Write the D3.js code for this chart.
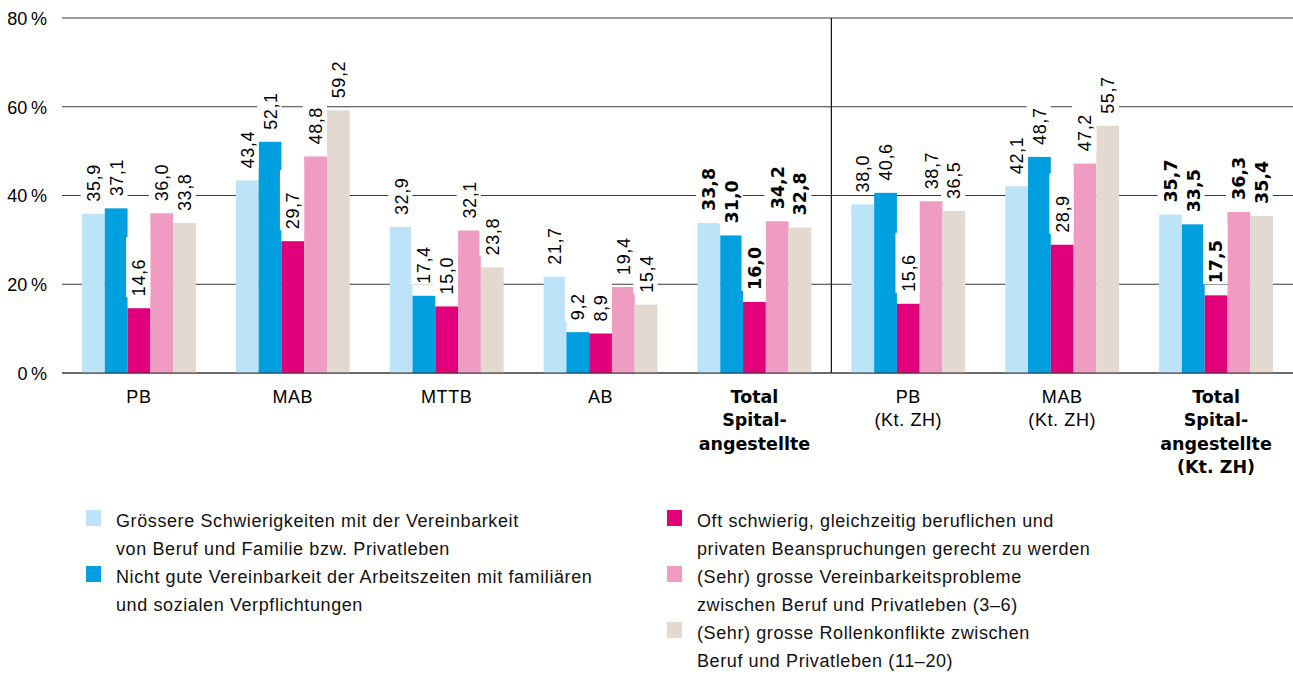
<!DOCTYPE html>
<html><head><meta charset="utf-8">
<script src="https://cdn.jsdelivr.net/npm/d3@7"></script>
<style>body{margin:0;background:#fff}svg{display:block}</style>
</head><body>
<svg id="c" width="1293" height="676"></svg>
<script>
const categories = ["PB","MAB","MTTB","AB","Total","PB ZH","MAB ZH","Total ZH"];
const categoryLines = [["PB"],["MAB"],["MTTB"],["AB"],["Total","Spital-","angestellte"],["PB","(Kt. ZH)"],["MAB","(Kt. ZH)"],["Total","Spital-","angestellte","(Kt. ZH)"]];
const boldCats = ["Total","Total ZH"];
const seriesNames = [
  ["Grössere Schwierigkeiten mit der Vereinbarkeit","von Beruf und Familie bzw. Privatleben"],
  ["Nicht gute Vereinbarkeit der Arbeitszeiten mit familiären","und sozialen Verpflichtungen"],
  ["Oft schwierig, gleichzeitig beruflichen und","privaten Beanspruchungen gerecht zu werden"],
  ["(Sehr) grosse Vereinbarkeitsprobleme","zwischen Beruf und Privatleben (3–6)"],
  ["(Sehr) grosse Rollenkonflikte zwischen","Beruf und Privatleben (11–20)"]
];
const s1 = [35.9, 43.4, 32.9, 21.7, 33.8, 38.0, 42.1, 35.7];
const s2 = [37.1, 52.1, 17.4, 9.2, 31.0, 40.6, 48.7, 33.5];
const s3 = [14.6, 29.7, 15.0, 8.9, 16.0, 15.6, 28.9, 17.5];
const s4 = [36.0, 48.8, 32.1, 19.4, 34.2, 38.7, 47.2, 36.3];
const s5 = [33.8, 59.2, 23.8, 15.4, 32.8, 36.5, 55.7, 35.4];
const yTicks = [0, 20, 40, 60, 80];
const colors = ["#bde3f8","#009fe0","#e2007a","#f09bc2","#e3d9d1"];

const series = [s1,s2,s3,s4,s5];
const svg = d3.select("#c");
const font = "'Liberation Sans', Arial, sans-serif";
const boldFont = "'DejaVu Sans', sans-serif";
const fs = 18, ls = 0.6, bfs = 17.5;

function styleText(sel, bold) {
  return sel.style("font-family", bold ? boldFont : font)
    .style("font-size", (bold ? bfs : fs) + "px")
    .style("font-weight", bold ? "bold" : "normal")
    .style("letter-spacing", bold ? "0px" : ls + "px")
    .attr("fill", "#000");
}

const x0 = d3.scaleBand().domain(categories).range([62, 1293]).paddingInner(0.26).paddingOuter(0.13);
const x1 = d3.scaleBand().domain(d3.range(5)).range([0, x0.bandwidth()]);
const y = d3.scaleLinear().domain([0, 80]).range([373, 18]);

// y axis labels
const yAxis = d3.axisLeft(y).tickValues(yTicks).tickSize(0).tickFormat(d => d + "\u2009%");
const ga = svg.append("g").attr("transform", "translate(62,0)").call(yAxis);
ga.select(".domain").remove();
ga.selectAll("text").attr("x", -15).attr("dy", "0.35em").call(styleText, false).style("letter-spacing", "0px");
// gridlines
svg.append("g").selectAll("line").data(yTicks).join("line")
  .attr("x1", 62).attr("x2", 1293).attr("y1", d => y(d)).attr("y2", d => y(d))
  .attr("stroke", "#3a3a3a").attr("stroke-width", 1.2);

// separator
const sepX = (x0("Total") + x0.bandwidth() + x0("PB ZH")) / 2;
svg.append("line").attr("x1", sepX).attr("x2", sepX).attr("y1", y(80)).attr("y2", y(0)).attr("stroke", "#111").attr("stroke-width", 1.2);

// bars
const flat = [];
categories.forEach((c, ci) => series.forEach((s, si) => flat.push({c, ci, si, v: s[ci]})));
svg.append("g").selectAll("rect").data(flat).join("rect")
  .attr("x", d => x0(d.c) + x1(d.si)).attr("width", x1.bandwidth())
  .attr("y", d => y(d.v)).attr("height", d => y(0) - y(d.v))
  .attr("fill", d => colors[d.si]);

// baseline redraw
svg.append("line").attr("x1", 62).attr("x2", 1293).attr("y1", y(0)).attr("y2", y(0)).attr("stroke", "#3a3a3a").attr("stroke-width", 1.2);

// value labels with white masks
const lg = svg.append("g");
flat.forEach(d => {
  const bx = x0(d.c) + x1(d.si);
  const bw = x1.bandwidth();
  const top = y(d.v);
  const bold = boldCats.includes(d.c);
  lg.append("rect").attr("x", bx - 1.5).attr("width", bw + 1.5)
    .attr("y", top - 11 - 60).attr("height", 60).attr("fill", "#fff");
});
flat.forEach(d => {
  const cx = x0(d.c) + x1(d.si) + x1.bandwidth() / 2;
  const yt = y(d.v) - 12;
  const bold = boldCats.includes(d.c);
  lg.append("text").attr("transform", `translate(${cx},${yt}) rotate(-90)`)
    .attr("dy", "0.36em").attr("text-anchor", "start").call(styleText, bold)
    .text(d3.format(".1f")(d.v).replace(".", ","));
});

// category labels
categories.forEach((c, ci) => {
  const bold = boldCats.includes(c);
  const cx = x0(c) + x0.bandwidth() / 2;
  const t = svg.append("text").attr("text-anchor", "middle").call(styleText, bold);
  categoryLines[ci].forEach((l, li) => t.append("tspan").attr("x", cx).attr("y", 403 + li * 23.4).text(l));
});

// legend
const legPos = [[86, 527], [86, 583], [667, 527], [667, 583], [667, 639]];
seriesNames.forEach((n, i) => {
  const [lx, ly] = legPos[i];
  svg.append("rect").attr("x", lx).attr("y", ly - 17).attr("width", 15).attr("height", 16).attr("fill", colors[i]);
  const t = svg.append("text").call(styleText, false).attr("fill", "#111");
  n.forEach((l, li) => t.append("tspan").attr("x", lx + 30).attr("y", ly + li * 28).text(l));
});
</script>
</body></html>
